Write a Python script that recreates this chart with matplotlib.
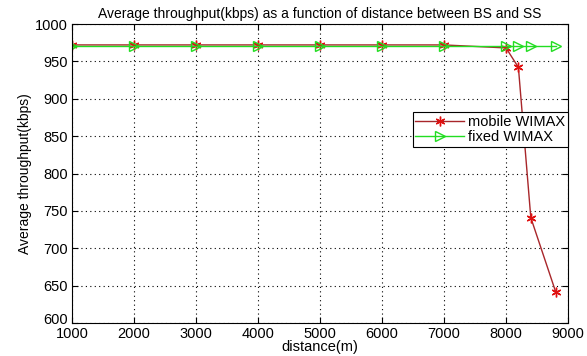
import matplotlib
matplotlib.use("Agg")
import matplotlib.pyplot as plt
import matplotlib.transforms as mtransforms

# distances (m) and average throughput (kbps)
mobile_dist = [1000, 2000, 3000, 4000, 5000, 6000, 7000, 8000, 8200, 8400, 8800]
mobile_thr = [972, 972, 972, 972, 972, 972, 972, 968, 942, 741, 642]
fixed_dist = [1000, 2000, 3000, 4000, 5000, 6000, 7000, 8000, 8200, 8400, 8800]
fixed_thr = [970, 970, 970, 970, 970, 970, 970, 970, 970, 970, 970]

plt.rcParams['font.family'] = ['Liberation Sans', 'DejaVu Sans']

fig = plt.figure(figsize=(5.87, 3.56), dpi=100)
ax = fig.add_axes([72 / 587, 33 / 356, 496 / 587, 299 / 356])

# asterisk marker like the one matlab uses
ax.plot(mobile_dist, mobile_thr, color='#a8262a', lw=1.0, marker=(6, 2, 0),
        markersize=7, markeredgewidth=1.0, markeredgecolor='#e01010',
        label='mobile WIMAX')
ax.plot(fixed_dist, fixed_thr, color='#22dd22', lw=1.0, marker='>',
        markersize=6.5, markerfacecolor='none', markeredgecolor='#22dd22',
        label='fixed WIMAX')

ax.set_xlim(1000, 9000)
ax.set_ylim(600, 1000)
ax.set_xticks(range(1000, 9001, 1000))
ax.set_yticks(range(600, 1001, 50))
ax.grid(True, color='black', linestyle=(0, (1, 3)), linewidth=0.8)
ax.tick_params(direction='in', top=True, right=True, labelsize=10.5, length=4, pad=3)
for s in ax.spines.values():
    s.set_linewidth(0.8)

# lift the lowest y label a little so it clears the first x label
fig.canvas.draw()
lbl = ax.get_yticklabels()[0]
lbl.set_transform(lbl.get_transform() +
                  mtransforms.ScaledTranslation(0, 4 / 100, fig.dpi_scale_trans))

ax.set_title('Average throughput(kbps) as a function of distance between BS and SS',
             fontsize=10, pad=4)
ax.set_xlabel('distance(m)', fontsize=10.5, labelpad=-1)
ax.set_ylabel('Average throughput(kbps)', fontsize=10, labelpad=2)

leg = ax.legend(loc='upper right', bbox_to_anchor=(1.0, 0.706), fontsize=10.5,
                fancybox=False, framealpha=1, edgecolor='black',
                borderaxespad=0, handlelength=3.3, handletextpad=0.3,
                borderpad=0.2, labelspacing=0.1)
leg.get_frame().set_linewidth(0.8)

fig.savefig('out.png', dpi=100)
